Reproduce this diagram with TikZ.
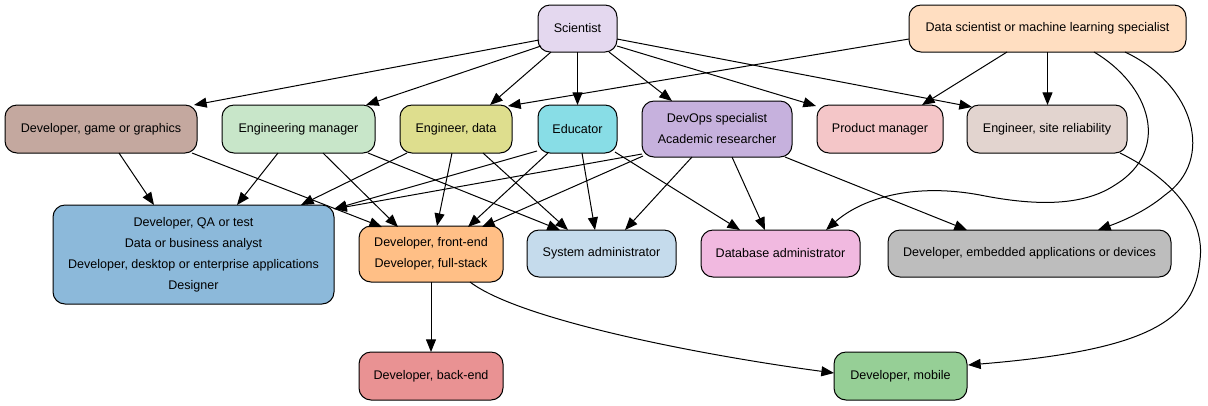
\documentclass[tikz,border=0pt]{standalone}
\usepackage{fontspec}
\setmainfont{Liberation Sans}
\usetikzlibrary{arrows.meta,calc}
\definecolor{cSci}{HTML}{E4D8EF}
\definecolor{cDS}{HTML}{FFDEC1}
\definecolor{cGame}{HTML}{C4A89F}
\definecolor{cMgr}{HTML}{C8E6C9}
\definecolor{cEData}{HTML}{DEDE8E}
\definecolor{cEdu}{HTML}{88DDE6}
\definecolor{cDevOps}{HTML}{C6B1DD}
\definecolor{cPM}{HTML}{F4C6C8}
\definecolor{cSRE}{HTML}{E2D4CF}
\definecolor{cBlue}{HTML}{8CB9DA}
\definecolor{cFE}{HTML}{FFBF86}
\definecolor{cSys}{HTML}{C5DBEC}
\definecolor{cDBA}{HTML}{F1B9E0}
\definecolor{cEmb}{HTML}{BDBDBD}
\definecolor{cBE}{HTML}{E99293}
\definecolor{cMob}{HTML}{96CF96}
\begin{document}
\begin{tikzpicture}[x=0.75pt,y=-0.75pt,
  box/.style={draw=black, line width=0.75pt, rounded corners=9pt, inner sep=0pt,
    align=center, text=black, font=\fontsize{9.4}{15.75}\selectfont},
  arr/.style={draw=black, line width=0.75pt, -{Triangle[length=9.5pt,width=7.5pt]}},
]
\useasboundingbox (0,0) rectangle (1208,405);

% top row
\node[box, fill=cSci, minimum width=59.25pt, minimum height=35.25pt] (sci) at (577.5,28.5) {Scientist};
\node[box, fill=cDS, minimum width=207.75pt, minimum height=35.25pt] (ds) at (1047.5,28.5) {Data scientist or machine learning specialist};

% second row
\node[box, fill=cGame, minimum width=144pt, minimum height=36pt] (game) at (101,129) {Developer, game or graphics};
\node[box, fill=cMgr, minimum width=114.75pt, minimum height=36pt] (mgr) at (298.5,129) {Engineering manager};
\node[box, fill=cEData, minimum width=84pt, minimum height=36pt] (edata) at (456,129) {Engineer, data};
\node[box, fill=cEdu, minimum width=59.25pt, minimum height=36pt] (edu) at (577.5,129) {Educator};
\node[box, fill=cDevOps, minimum width=112.5pt, minimum height=42pt] (devops) at (717,129) {DevOps specialist\\Academic researcher};
\node[box, fill=cPM, minimum width=94.5pt, minimum height=36pt] (pm) at (880,129) {Product manager};
\node[box, fill=cSRE, minimum width=120pt, minimum height=36pt] (sre) at (1047,129) {Engineer, site reliability};

% third row
\node[box, fill=cBlue, minimum width=210.75pt, minimum height=74.25pt] (blue) at (193.5,254.5) {Developer, QA or test\\Data or business analyst\\Developer, desktop or enterprise applications\\Designer};
\node[box, fill=cFE, minimum width=108pt, minimum height=42pt] (fe) at (431,254) {Developer, front-end\\Developer, full-stack};
\node[box, fill=cSys, minimum width=111.75pt, minimum height=35.25pt] (sys) at (601.5,253.5) {System administrator};
\node[box, fill=cDBA, minimum width=119.25pt, minimum height=35.25pt] (dba) at (780.5,253.5) {Database administrator};
\node[box, fill=cEmb, minimum width=212.25pt, minimum height=35.25pt] (emb) at (1029.5,253.5) {Developer, embedded applications or devices};

% bottom row
\node[box, fill=cBE, minimum width=108pt, minimum height=36pt] (be) at (431,376) {Developer, back-end};
\node[box, fill=cMob, minimum width=99.75pt, minimum height=36pt] (mob) at (900.5,376) {Developer, mobile};

% Scientist edges
\draw[arr] ($(sci)+(-38.5,11.5)$) -- ($(game)+(93,-24)$);
\draw[arr] ($(sci)+(-36.5,17.5)$) -- ($(mgr)+(67.5,-24)$);
\draw[arr] ($(sci)+(-26.5,23.5)$) -- ($(edata)+(34,-24)$);
\draw[arr] ($(sci)+(0,23.5)$) -- ($(edu)+(0,-24)$);
\draw[arr] ($(sci)+(31.5,23.5)$) -- ($(devops)+(-45,-28)$);
\draw[arr] ($(sci)+(39.5,17.5)$) -- ($(pm)+(-64,-23)$);
\draw[arr] ($(sci)+(39.5,10.5)$) -- ($(sre)+(-75,-22)$);

% Data scientist edges
\draw[arr] ($(ds)+(-138.5,10.5)$) -- ($(edata)+(52,-23)$);
\draw[arr] ($(ds)+(-40.5,23.5)$) -- ($(pm)+(42,-24)$);
\draw[arr] ($(ds)+(0,23.5)$) -- ($(sre)+(0.5,-24)$);
\draw[arr] ($(ds)+(46.5,23.5)$) .. controls (1150,85) and (1172,150) .. (1115,185)
  .. controls (1085,205) and (1040,207) .. (980,195)
  .. controls (910,182) and (860,200) .. ($(dba)+(45.5,-23.5)$);
\draw[arr] ($(ds)+(77.5,23.5)$) .. controls (1195,85) and (1215,160) .. (1165,195)
  .. controls (1145,212) and (1120,222) .. ($(emb)+(68.5,-23.5)$);

% second row to third row
\draw[arr] ($(game)+(18,24)$) -- ($(blue)+(-39.5,-49.5)$);
\draw[arr] ($(game)+(91,24)$) -- ($(fe)+(-49,-27)$);
\draw[arr] ($(mgr)+(-20.5,24)$) -- ($(blue)+(43.5,-49.5)$);
\draw[arr] ($(mgr)+(24.5,24)$) -- ($(fe)+(-33,-27)$);
\draw[arr] ($(mgr)+(69.5,24)$) -- ($(sys)+(-41.5,-23.5)$);
\draw[arr] ($(edata)+(-49,24)$) -- ($(blue)+(107.5,-49.5)$);
\draw[arr] ($(edata)+(-4,24)$) -- ($(fe)+(6,-28)$);
\draw[arr] ($(edata)+(27,24)$) -- ($(sys)+(-33.5,-23.5)$);
\draw[arr] ($(edu)+(-40.5,22)$) -- ($(blue)+(140.5,-45.5)$);
\draw[arr] ($(edu)+(-29.5,24)$) -- ($(fe)+(37,-27)$);
\draw[arr] ($(edu)+(4.5,24)$) -- ($(sys)+(-6.5,-23.5)$);
\draw[arr] ($(edu)+(37.5,23)$) -- ($(dba)+(-40.5,-23.5)$);
\draw[arr] ($(devops)+(-75,25)$) -- ($(blue)+(140.5,-45.5)$);
\draw[arr] ($(devops)+(-74,27)$) -- ($(fe)+(51,-27)$);
\draw[arr] ($(devops)+(-25,28)$) -- ($(sys)+(23.5,-23.5)$);
\draw[arr] ($(devops)+(15,28)$) -- ($(dba)+(-15.5,-23.5)$);
\draw[arr] ($(devops)+(68,28)$) -- ($(emb)+(-62.5,-23.5)$);

% to bottom row
\draw[arr] ($(fe)+(0,28)$) -- ($(be)+(0,-24)$);
\draw[arr] ($(fe)+(39,28)$) .. controls (520,320) and (700,355) .. ($(mob)+(-66.5,-3)$);
\draw[arr] ($(sre)+(73,24)$) .. controls (1175,180) and (1205,220) .. (1200,260)
  .. controls (1195,320) and (1150,350) .. ($(mob)+(67.5,-11)$);
\end{tikzpicture}
\end{document}
